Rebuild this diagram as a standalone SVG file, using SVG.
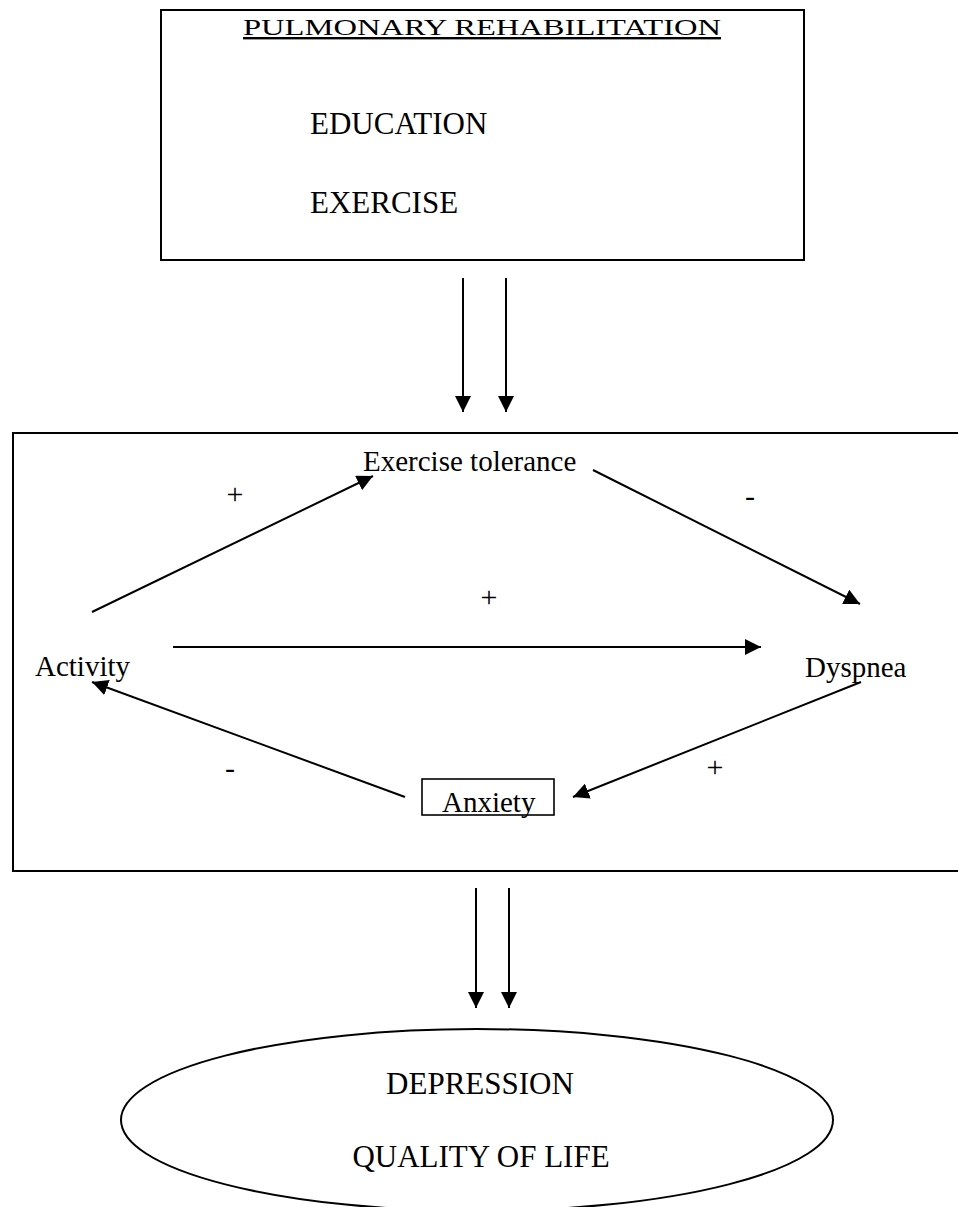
<svg xmlns="http://www.w3.org/2000/svg" width="958" height="1207" viewBox="0 0 958 1207">
<style>
  .box { fill: none; stroke: #000; stroke-width: 2; }
  .thin { fill: none; stroke: #000; stroke-width: 1.6; }
  .t { font-family: "Liberation Serif", "Times New Roman", serif; fill: #000; }
  .big { font-size: 31px; }
  .lab { font-size: 29px; }
  .sign { font-size: 30px; text-anchor: middle; }
  .conn line { stroke: #000; stroke-width: 2; marker-end: url(#ah); }
</style>
<defs>
  <marker id="ah" markerUnits="userSpaceOnUse" markerWidth="17" markerHeight="16" refX="16" refY="8" orient="auto">
    <path d="M0,0 L16,8 L0,16 z" fill="#000"/>
  </marker>
</defs>
<rect width="958" height="1207" fill="#fff"/>

<g id="rehab">
  <rect class="box" x="161" y="10" width="643" height="250"/>
  <text class="t" x="243" y="35" font-size="24" textLength="478" lengthAdjust="spacingAndGlyphs" text-decoration="underline">PULMONARY REHABILITATION</text>
  <text class="t big" x="310" y="134">EDUCATION</text>
  <text class="t big" x="310" y="213">EXERCISE</text>
</g>

<g id="cycle">
  <rect class="box" x="13" y="433" width="960" height="438"/>
</g>

<g id="exercise-tolerance">
  <text class="t lab" x="363" y="471">Exercise tolerance</text>
</g>
<g id="activity">
  <text class="t lab" x="35" y="676">Activity</text>
</g>
<g id="dyspnea">
  <text class="t lab" x="805" y="677">Dyspnea</text>
</g>
<g id="anxiety">
  <rect class="thin" x="422" y="779" width="132" height="36"/>
  <text class="t lab" x="442" y="812">Anxiety</text>
</g>

<g id="outcome">
  <ellipse class="box" cx="477" cy="1120" rx="356" ry="91"/>
  <text class="t big" x="480" y="1094" text-anchor="middle">DEPRESSION</text>
  <text class="t big" x="481" y="1167" text-anchor="middle">QUALITY OF LIFE</text>
</g>

<g id="connectors" class="conn">
  <line x1="463" y1="278" x2="463" y2="412"/>
  <line x1="506" y1="278" x2="506" y2="412"/>
  <line x1="92" y1="612" x2="373" y2="476"/>
  <line x1="593" y1="470" x2="860" y2="604"/>
  <line x1="173" y1="647" x2="761" y2="647"/>
  <line x1="861" y1="682" x2="573" y2="797"/>
  <line x1="405" y1="797" x2="92" y2="682"/>
  <line x1="476" y1="888" x2="476" y2="1008"/>
  <line x1="509" y1="888" x2="509" y2="1008"/>
</g>

<g id="signs">
  <text class="t sign" x="235" y="504">+</text>
  <text class="t sign" x="750" y="506">-</text>
  <text class="t sign" x="489" y="607">+</text>
  <text class="t sign" x="715" y="777">+</text>
  <text class="t sign" x="230" y="778">-</text>
</g>
</svg>
